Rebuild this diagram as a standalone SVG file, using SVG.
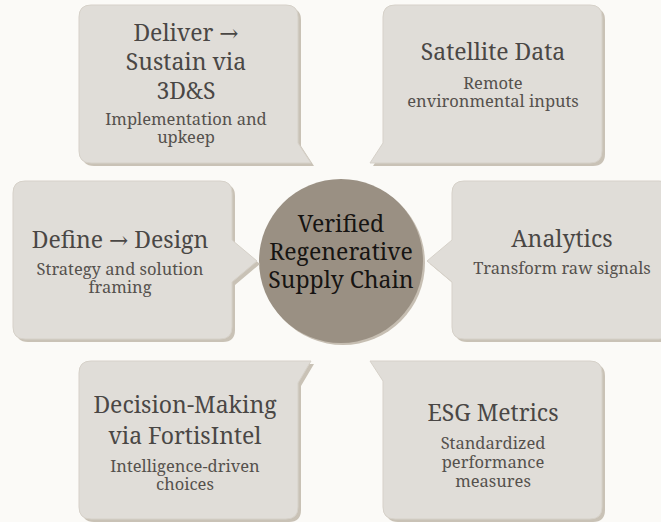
<svg xmlns="http://www.w3.org/2000/svg" width="661" height="522" viewBox="0 0 661 522">
<style>
.bg{fill:#fbfaf7}
.sh{fill:#c9c2b6}
.box{fill:#e0ddd8;stroke:#d6d1c9;stroke-width:1}
.t{font-family:"Noto Serif","DejaVu Serif",serif;font-size:23px;fill:#4a4745;text-anchor:middle}
.s{font-family:"Noto Serif","DejaVu Serif",serif;font-size:16.5px;fill:#55514d;text-anchor:middle}
.c{font-family:"Noto Serif","DejaVu Serif",serif;font-size:23px;fill:#161412;text-anchor:middle}
</style>
<rect class="bg" x="0" y="0" width="661" height="522"/>
<g id="connectors"></g>
<g id="center">
<circle cx="343" cy="263" r="82" fill="#c6beb2"/>
<circle cx="341" cy="261" r="82" fill="#9a9083"/>
<text class="c" x="341" y="232">Verified</text>
<text class="c" x="341" y="260">Regenerative</text>
<text class="c" x="341" y="288">Supply Chain</text>
</g>
<g id="deliver">
<path class="sh" transform="translate(3,3)" d="M91,5 H286 Q298,5 298,17 V143 L311,163 H91 Q79,163 79,151 V17 Q79,5 91,5 Z"/>
<path class="box" d="M91,5 H286 Q298,5 298,17 V143 L311,163 H91 Q79,163 79,151 V17 Q79,5 91,5 Z"/>
<text class="t" x="186" y="41">Deliver →</text>
<text class="t" x="186" y="70">Sustain via</text>
<text class="t" x="186" y="99">3D&amp;S</text>
<text class="s" x="186" y="125">Implementation and</text>
<text class="s" x="186" y="143">upkeep</text>
</g>
<g id="satellite">
<path class="sh" transform="translate(3,3)" d="M395,5 H590 Q602,5 602,17 V151 Q602,163 590,163 H370 L383,143 V17 Q383,5 395,5 Z"/>
<path class="box" d="M395,5 H590 Q602,5 602,17 V151 Q602,163 590,163 H370 L383,143 V17 Q383,5 395,5 Z"/>
<text class="t" x="493" y="60">Satellite Data</text>
<text class="s" x="493" y="89">Remote</text>
<text class="s" x="493" y="107">environmental inputs</text>
</g>
<g id="define">
<path class="sh" transform="translate(3,3)" d="M25,181 H220 Q232,181 232,193 V240 L257,261 L232,282 V327 Q232,339 220,339 H25 Q13,339 13,327 V193 Q13,181 25,181 Z"/>
<path class="box" d="M25,181 H220 Q232,181 232,193 V240 L257,261 L232,282 V327 Q232,339 220,339 H25 Q13,339 13,327 V193 Q13,181 25,181 Z"/>
<text class="t" x="120" y="248">Define → Design</text>
<text class="s" x="120" y="275">Strategy and solution</text>
<text class="s" x="120" y="293">framing</text>
</g>
<g id="analytics">
<path class="sh" transform="translate(3,3)" d="M464,181 H659 Q671,181 671,193 V327 Q671,339 659,339 H464 Q452,339 452,327 V282 L427,261 L452,240 V193 Q452,181 464,181 Z"/>
<path class="box" d="M464,181 H659 Q671,181 671,193 V327 Q671,339 659,339 H464 Q452,339 452,327 V282 L427,261 L452,240 V193 Q452,181 464,181 Z"/>
<text class="t" x="562" y="247">Analytics</text>
<text class="s" x="562" y="274">Transform raw signals</text>
</g>
<g id="decision">
<path class="sh" transform="translate(3,3)" d="M91,361 H311 L298,383 V507 Q298,519 286,519 H91 Q79,519 79,507 V373 Q79,361 91,361 Z"/>
<path class="box" d="M91,361 H311 L298,383 V507 Q298,519 286,519 H91 Q79,519 79,507 V373 Q79,361 91,361 Z"/>
<text class="t" x="185" y="413">Decision-Making</text>
<text class="t" x="185" y="444">via FortisIntel</text>
<text class="s" x="185" y="472">Intelligence-driven</text>
<text class="s" x="185" y="490">choices</text>
</g>
<g id="esg">
<path class="sh" transform="translate(3,3)" d="M370,361 H590 Q602,361 602,373 V507 Q602,519 590,519 H395 Q383,519 383,507 V381 Z"/>
<path class="box" d="M370,361 H590 Q602,361 602,373 V507 Q602,519 590,519 H395 Q383,519 383,507 V381 Z"/>
<text class="t" x="493" y="421">ESG Metrics</text>
<text class="s" x="493" y="449">Standardized</text>
<text class="s" x="493" y="468">performance</text>
<text class="s" x="493" y="487">measures</text>
</g>
</svg>
